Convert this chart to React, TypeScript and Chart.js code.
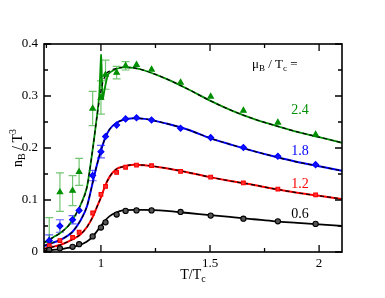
import React, { useEffect, useRef } from "react";
import { Chart, registerables } from "chart.js";

Chart.register(...registerables);

// Lattice temperatures T/Tc
const latticeT = [0.763, 0.812, 0.87, 0.9, 0.962, 1.0, 1.021, 1.072, 1.113, 1.163, 1.232, 1.365, 1.503, 1.653, 1.811, 1.984];
const lattice06 = [0.004, 0.007, 0.010, 0.015, 0.030, 0.047, 0.057, 0.072, 0.079, 0.080, 0.080, 0.077, 0.070, 0.064, 0.059, 0.054];
const lattice12 = [0.012, 0.022, 0.028, 0.038, 0.075, 0.111, 0.126, 0.153, 0.163, 0.167, 0.166, 0.155, 0.144, 0.133, 0.121, 0.110];
const lattice18 = [0.022, 0.050, 0.062, 0.080, 0.147, 0.193, 0.222, 0.244, 0.256, 0.258, 0.254, 0.238, 0.220, 0.201, 0.184, 0.168];
const lattice24 = [0.022, 0.115, 0.118, 0.154, 0.276, 0.297, 0.341, 0.345, 0.358, 0.360, 0.351, 0.326, 0.299, 0.272, 0.249, 0.226];
const err18 = [0.011, 0.012, 0.008, 0.006, 0.010, 0.012, 0.006, 0.004, 0.004, 0.003, 0.003, 0.003, 0.003, 0.003, 0.003, 0.003];
const err24 = [0.044, 0.037, 0.029, 0.026, 0.033, 0.032, 0.028, 0.012, 0.008, 0.005, 0.004, 0.004, 0.004, 0.004, 0.004, 0.004];

// Model curves
const curveT = [0.739, 0.78, 0.812, 0.85, 0.87, 0.904, 0.936, 0.963, 0.98, 1.0, 1.02, 1.04, 1.07, 1.1, 1.15, 1.2, 1.3, 1.4, 1.5, 1.6, 1.7, 1.8, 1.9, 2.0, 2.105];
const curve06 = [0.002, 0.004, 0.005, 0.008, 0.010, 0.0135, 0.020, 0.030, 0.039, 0.050, 0.061, 0.069, 0.076, 0.080, 0.081, 0.081, 0.079, 0.075, 0.071, 0.067, 0.063, 0.059, 0.056, 0.053, 0.050];
const curve12 = [0.006, 0.010, 0.0135, 0.020, 0.0245, 0.033, 0.048, 0.068, 0.085, 0.105, 0.128, 0.145, 0.159, 0.164, 0.168, 0.167, 0.161, 0.153, 0.144, 0.136, 0.129, 0.121, 0.114, 0.108, 0.102];
const curve18 = [0.012, 0.018, 0.023, 0.032, 0.039, 0.059, 0.088, 0.135, 0.165, 0.195, 0.220, 0.236, 0.248, 0.254, 0.257, 0.256, 0.247, 0.235, 0.219, 0.206, 0.194, 0.183, 0.173, 0.165, 0.156];
const curve24 = [0.018, 0.028, 0.036, 0.050, 0.062, 0.088, 0.125, 0.200, 0.255, 0.310, 0.340, 0.348, 0.353, 0.355, 0.354, 0.349, 0.333, 0.313, 0.291, 0.272, 0.256, 0.243, 0.231, 0.221, 0.210];
// Solid green curve with the spike near Tc
const greenT = [0.739, 0.78, 0.812, 0.85, 0.87, 0.904, 0.936, 0.963, 0.98, 0.992, 1.001, 1.008, 1.02, 1.034, 1.06, 1.1, 1.15, 1.2, 1.3, 1.4, 1.5, 1.6, 1.7, 1.8, 1.9, 2.0, 2.105];
const green24 = [0.018, 0.028, 0.036, 0.050, 0.062, 0.088, 0.125, 0.200, 0.255, 0.300, 0.379, 0.294, 0.320, 0.342, 0.350, 0.355, 0.354, 0.349, 0.333, 0.313, 0.291, 0.272, 0.256, 0.243, 0.231, 0.221, 0.210];

const xTicks = [1, 1.5, 2];
const xMinorTicks = [0.75, 1.25, 1.75];
const yTicks = [0, 0.1, 0.2, 0.3, 0.4];
const yMinorTicks = [0.05, 0.15, 0.25, 0.35];
const seriesLabels = ["0.6", "1.2", "1.8", "2.4"];

const GREEN = "#008f00";
const BLUE = "#0000ff";
const RED = "#ff0000";
const BLACK = "#000000";
const FONT = "'Liberation Serif', 'DejaVu Serif', serif";

const pts = (xs: number[], ys: number[]) => xs.map((x, i) => ({ x, y: ys[i] }));

type Part = { t: string; sub?: boolean; sup?: boolean };

function drawRich(ctx: CanvasRenderingContext2D, parts: Part[], x: number, y: number, size: number, color: string, align: "left" | "center") {
  ctx.save();
  ctx.fillStyle = color;
  ctx.textBaseline = "middle";
  ctx.textAlign = "left";
  const small = Math.round(size * 0.7);
  let total = 0;
  for (const p of parts) {
    ctx.font = `${p.sub || p.sup ? small : size}px ${FONT}`;
    total += ctx.measureText(p.t).width;
  }
  let cx = align === "center" ? x - total / 2 : x;
  for (const p of parts) {
    ctx.font = `${p.sub || p.sup ? small : size}px ${FONT}`;
    const dy = p.sub ? size * 0.28 : p.sup ? -size * 0.35 : 0;
    ctx.fillText(p.t, cx, y + dy);
    cx += ctx.measureText(p.t).width;
  }
  ctx.restore();
}

const decorPlugin = {
  id: "decor",
  beforeDatasetsDraw(chart: any) {
    const ctx = chart.ctx;
    const a = chart.chartArea;
    const xs = chart.scales.x;
    const ys = chart.scales.y;
    const bars = [
      { e: err18, v: lattice18, c: "rgba(40,40,255,0.75)" },
      { e: err24, v: lattice24, c: "rgba(0,150,0,0.55)" },
    ];
    ctx.save();
    ctx.beginPath();
    ctx.rect(a.left, a.top, a.right - a.left, a.bottom - a.top);
    ctx.clip();
    ctx.lineWidth = 1.2;
    for (const b of bars) {
      ctx.strokeStyle = b.c;
      latticeT.forEach((t, i) => {
        const px = xs.getPixelForValue(t);
        const y1 = ys.getPixelForValue(b.v[i] + b.e[i]);
        const y2 = ys.getPixelForValue(b.v[i] - b.e[i]);
        if (y2 - y1 < 7) return;
        ctx.beginPath();
        ctx.moveTo(px, y1);
        ctx.lineTo(px, y2);
        ctx.moveTo(px - 4, y1);
        ctx.lineTo(px + 4, y1);
        ctx.moveTo(px - 4, y2);
        ctx.lineTo(px + 4, y2);
        ctx.stroke();
      });
    }
    ctx.restore();
  },
  afterDraw(chart: any) {
    const ctx = chart.ctx;
    const a = chart.chartArea;
    const xs = chart.scales.x;
    const ys = chart.scales.y;
    ctx.save();
    ctx.strokeStyle = BLACK;
    ctx.lineWidth = 1.6;
    ctx.strokeRect(a.left, a.top, a.right - a.left, a.bottom - a.top);
    ctx.lineWidth = 1.3;
    ctx.beginPath();
    const tick = (vals: number[], len: number) => {
      for (const v of vals) {
        const px = xs.getPixelForValue(v);
        ctx.moveTo(px, a.bottom);
        ctx.lineTo(px, a.bottom - len);
        ctx.moveTo(px, a.top);
        ctx.lineTo(px, a.top + len);
      }
    };
    const tickY = (vals: number[], len: number) => {
      for (const v of vals) {
        const py = ys.getPixelForValue(v);
        ctx.moveTo(a.left, py);
        ctx.lineTo(a.left + len, py);
        ctx.moveTo(a.right, py);
        ctx.lineTo(a.right - len, py);
      }
    };
    tick(xTicks, 7);
    tick(xMinorTicks, 4);
    tickY(yTicks, 7);
    tickY(yMinorTicks, 4);
    ctx.stroke();
    ctx.restore();

    // axis titles
    drawRich(ctx, [{ t: "T/T" }, { t: "c", sub: true }], 193, 275, 14, BLACK, "center");
    ctx.save();
    ctx.translate(18, 148);
    ctx.rotate(-Math.PI / 2);
    drawRich(ctx, [{ t: "n" }, { t: "B", sub: true }, { t: " / T" }, { t: "3", sup: true }], 0, 0, 14, BLACK, "center");
    ctx.restore();

    // annotations
    drawRich(ctx, [{ t: "\u03bc" }, { t: "B", sub: true }, { t: " / T" }, { t: "c", sub: true }, { t: " =" }], 252, 65, 13, BLACK, "left");
    const labelPos = [
      { t: seriesLabels[3], y: 110, c: GREEN },
      { t: seriesLabels[2], y: 151, c: BLUE },
      { t: seriesLabels[1], y: 184, c: RED },
      { t: seriesLabels[0], y: 214, c: BLACK },
    ];
    for (const l of labelPos) drawRich(ctx, [{ t: l.t }], 300, l.y, 14, l.c, "center");
  },
};

export default function App() {
  const ref = useRef<HTMLCanvasElement | null>(null);
  useEffect(() => {
    if (!ref.current) return;
    const lineBase = { showLine: true, pointRadius: 0, fill: false, cubicInterpolationMode: "monotone" as const };
    const dashed = (ys: number[]) => ({ ...lineBase, data: pts(curveT, ys), borderColor: BLACK, borderWidth: 1.2, borderDash: [4, 3], order: 1 });
    const pointSet = (ys: number[], style: string, color: string, fillC: string, r: number) => ({
      data: pts(latticeT, ys),
      showLine: false,
      pointStyle: style,
      pointRadius: r,
      pointBackgroundColor: fillC,
      pointBorderColor: color,
      pointBorderWidth: 1.1,
      borderColor: color,
      backgroundColor: fillC,
      order: 0,
    });
    const chart = new Chart(ref.current, {
      type: "scatter",
      data: {
        datasets: [
          { ...lineBase, data: pts(curveT, curve06), borderColor: BLACK, borderWidth: 1.8, order: 2 },
          { ...lineBase, data: pts(curveT, curve12), borderColor: RED, borderWidth: 2, order: 2 },
          { ...lineBase, data: pts(curveT, curve18), borderColor: BLUE, borderWidth: 2, order: 2 },
          { ...lineBase, data: pts(greenT, green24), borderColor: GREEN, borderWidth: 1.8, order: 2, cubicInterpolationMode: "default" as const, tension: 0.2 },
          dashed(curve12),
          dashed(curve18),
          dashed(curve24),
          pointSet(lattice06, "circle", BLACK, "#555555", 2.6),
          pointSet(lattice12, "rect", RED, "#ff3030", 2.6),
          pointSet(lattice18, "rectRot", BLUE, "#1010ff", 3),
          pointSet(lattice24, "triangle", GREEN, GREEN, 3.2),
        ] as any,
      },
      options: {
        responsive: false,
        animation: false,
        events: [],
        layout: { padding: { top: 44, right: 43, left: 0, bottom: 0 } },
        plugins: { legend: { display: false }, tooltip: { enabled: false }, title: { display: false } },
        scales: {
          x: {
            type: "linear",
            min: 0.739,
            max: 2.105,
            grid: { display: false, drawTicks: false },
            border: { display: false },
            afterBuildTicks: (s: any) => { s.ticks = xTicks.map((v) => ({ value: v })); },
            afterFit: (s: any) => { s.height = 46; },
            ticks: { padding: 4, color: BLACK, font: { family: FONT, size: 13 }, maxRotation: 0, callback: (v: any) => String(v) },
          },
          y: {
            type: "linear",
            min: 0,
            max: 0.4,
            grid: { display: false, drawTicks: false },
            border: { display: false },
            afterBuildTicks: (s: any) => { s.ticks = yTicks.map((v) => ({ value: v })); },
            afterFit: (s: any) => { s.width = 44; },
            ticks: { padding: 6, color: BLACK, font: { family: FONT, size: 13 }, callback: (v: any) => String(v) },
          },
        },
      },
      plugins: [decorPlugin],
    });
    return () => chart.destroy();
  }, []);
  return (
    <div style={{ position: "absolute", left: 0, top: 0, width: 385, height: 298, background: "#fff" }}>
      <canvas ref={ref} width={385} height={298} style={{ display: "block" }} />
    </div>
  );
}
